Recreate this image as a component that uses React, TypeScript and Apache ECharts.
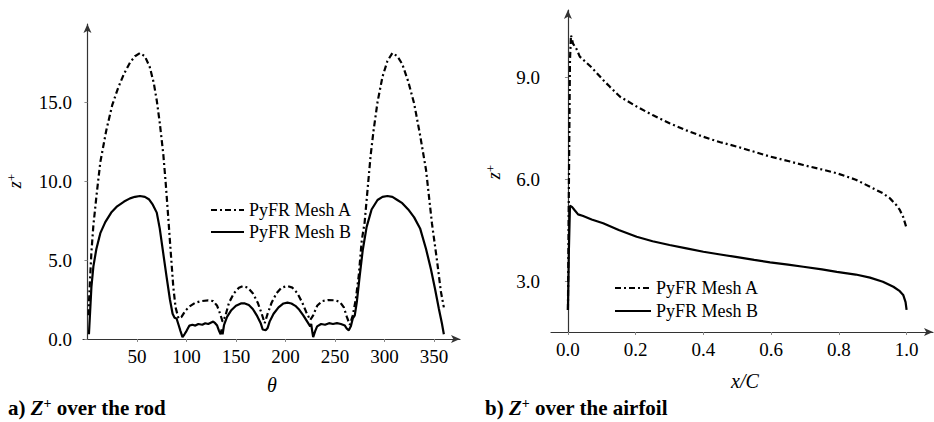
import React, { useEffect, useRef } from "react";
import * as echarts from "echarts";

// ---- Rod (left) data ----
const rodThetaA = [1, 2, 4, 6, 9, 13, 19, 25, 31, 37, 43, 48, 53, 58, 63, 67, 70, 73, 76.6, 79, 81.6, 84, 86.7, 89, 92, 95, 99, 104, 109, 115, 122, 127, 131, 134, 136.5, 139, 143, 148, 153, 157, 162, 167, 172, 176, 179, 182, 186, 191, 196, 202, 207, 212, 217, 221, 225, 228, 232, 237, 243, 250, 255, 259, 262, 265, 268, 271, 274, 277, 280, 283, 286, 289, 293, 298, 303, 308, 313, 318, 324, 330, 336, 342, 348, 353, 357, 360];
const rodZA = [1.5, 3.0, 5.5, 7.2, 9.0, 11.2, 13.2, 14.8, 15.9, 16.8, 17.5, 17.9, 18.1, 17.9, 17.2, 16.2, 15.1, 13.7, 11.7, 9.9, 7.7, 5.6, 3.3, 2.0, 1.3, 1.4, 1.8, 2.1, 2.3, 2.4, 2.45, 2.4, 2.1, 1.6, 1.1, 1.4, 2.3, 2.9, 3.25, 3.35, 3.25, 2.9, 2.3, 1.6, 1.0, 1.6, 2.3, 2.9, 3.25, 3.35, 3.25, 2.9, 2.3, 1.7, 1.2, 1.5, 2.1, 2.4, 2.47, 2.45, 2.35, 2.0, 1.4, 0.9, 1.5, 2.5, 4.0, 6.2, 7.4, 9.5, 11.6, 13.2, 15.0, 16.6, 17.6, 18.1, 17.9, 17.4, 16.3, 14.9, 12.9, 10.7, 7.3, 5.0, 3.0, 2.0];

const rodThetaB = [1.5, 2.5, 4, 6, 9, 13, 18, 24, 30, 37, 43, 48, 53, 58, 62, 66, 70, 73, 76.6, 80, 83.3, 86, 88, 90, 92, 94, 96, 98, 100, 103, 106, 109, 112, 116, 119, 122, 125, 127, 129, 131, 133, 134.5, 135.5, 136.5, 138, 141, 145, 150, 155, 159, 163, 167, 171, 175, 177, 180, 182, 184, 188, 193, 198, 202, 206, 210, 214, 218, 222, 225, 226, 227, 228, 230, 232, 236, 240, 244, 248, 252, 256, 260, 262, 264, 266, 268, 270, 272, 275, 278, 282, 287, 293, 298, 303, 308, 313, 318, 324, 330, 336, 342, 347, 351, 355, 358, 360];
const rodZB = [0.3, 1.5, 3.3, 4.6, 5.7, 6.7, 7.4, 8.0, 8.4, 8.7, 8.9, 9.0, 9.05, 9.0, 8.85, 8.5, 8.0, 7.0, 5.4, 3.9, 2.5, 1.6, 1.35, 1.3, 0.9, 0.5, 0.12, 0.3, 0.5, 0.85, 0.9, 0.85, 0.95, 0.9, 1.0, 0.95, 1.05, 1.1, 1.0, 0.85, 0.5, 0.3, 0.6, 0.3, 0.9, 1.4, 1.8, 2.1, 2.25, 2.25, 2.15, 1.9, 1.5, 1.0, 0.6, 0.55, 0.7, 1.1, 1.6, 2.0, 2.25, 2.3, 2.25, 2.1, 1.85, 1.5, 1.1, 0.8, 0.95, 0.5, 0.12, 0.5, 0.8, 0.95, 0.9, 1.0, 0.95, 1.0, 0.95, 0.85, 0.65, 0.55, 0.8, 1.3, 1.5, 2.3, 4.0, 5.6, 7.1, 8.2, 8.8, 9.0, 9.05, 9.0, 8.8, 8.6, 8.2, 7.7, 7.0, 5.7, 4.4, 3.2, 1.9, 1.0, 0.3];

// ---- Airfoil (right) data ----
const foilXA = [0, 0.003, 0.006, 0.009, 0.015, 0.025, 0.035, 0.07, 0.104, 0.124, 0.154, 0.203, 0.25, 0.3, 0.35, 0.4, 0.45, 0.5, 0.55, 0.597, 0.65, 0.695, 0.75, 0.794, 0.85, 0.892, 0.93, 0.951, 0.97, 0.98, 0.99, 1.0];
const foilZA = [2.17, 6.0, 9.5, 10.25, 10.0, 9.85, 9.62, 9.3, 8.93, 8.73, 8.44, 8.15, 7.9, 7.66, 7.45, 7.26, 7.1, 6.97, 6.82, 6.68, 6.55, 6.43, 6.3, 6.19, 6.0, 5.79, 5.6, 5.45, 5.25, 5.11, 4.9, 4.57];

const foilXB = [0, 0.003, 0.006, 0.012, 0.02, 0.03, 0.045, 0.07, 0.104, 0.15, 0.203, 0.25, 0.3, 0.35, 0.4, 0.45, 0.5, 0.55, 0.597, 0.65, 0.695, 0.75, 0.794, 0.85, 0.892, 0.93, 0.961, 0.98, 0.99, 0.997, 1.0];
const foilZB = [2.17, 4.0, 5.23, 5.2, 5.1, 4.98, 4.93, 4.83, 4.72, 4.52, 4.32, 4.19, 4.08, 3.98, 3.88, 3.8, 3.72, 3.64, 3.57, 3.5, 3.44, 3.36, 3.29, 3.21, 3.12, 3.0, 2.85, 2.72, 2.61, 2.4, 2.17];

// ---- Tick labels ----
const rodXTicks = [50, 100, 150, 200, 250, 300, 350];
const rodYTicks = [0, 5, 10, 15];
const foilXTicks = [0, 0.2, 0.4, 0.6, 0.8, 1.0];
const foilYTicks = [3, 6, 9];

const seriesNames = ["PyFR Mesh A", "PyFR Mesh B"];

const FONT = "Liberation Serif";
const zip = (xs: number[], ys: number[]) => xs.map((x, i) => [x, ys[i]]);

export default function App() {
  const ref = useRef<HTMLDivElement>(null);
  useEffect(() => {
    document.body.style.margin = "0";
    const chart = echarts.init(ref.current!, undefined, { renderer: "svg" });
    const axisLine = {
      show: true,
      lineStyle: { color: "#333", width: 1.2 },
      symbol: ["none", "arrow"],
      symbolSize: [6, 9],
    };
    const axisTick = (vals: number[]) => ({
      show: true,
      length: 3,
      customValues: vals,
      lineStyle: { color: "#888", width: 1 },
    });
    const labelStyle = { fontFamily: FONT, fontSize: 19, color: "#000" };
    const dashA = [6, 3, 2, 3];
    const lineSeries = (name: string, data: number[][], idx: number, dashed: boolean) => ({
      type: "line",
      name,
      data,
      xAxisIndex: idx,
      yAxisIndex: idx,
      symbol: "none",
      showSymbol: false,
      lineStyle: { color: "#000", width: 2.2, type: dashed ? dashA : "solid" },
      itemStyle: { color: "#000" },
      z: dashed ? 2 : 3,
    });
    const legendBase = {
      data: seriesNames,
      orient: "vertical",
      itemHeight: 18,
      itemStyle: { opacity: 0 },
      textStyle: { fontFamily: FONT, fontSize: 18, color: "#000", lineHeight: 18 },
      selectedMode: false,
    };
    const supText = (x: number, y: number) => ({
      type: "text",
      x,
      y,
      rotation: Math.PI / 2,
      style: {
        text: "{z|z}{s|+}",
        align: "center",
        verticalAlign: "middle",
        rich: {
          z: { fontFamily: FONT, fontStyle: "italic", fontSize: 18, lineHeight: 20, fill: "#000" },
          s: { fontFamily: FONT, fontSize: 13, lineHeight: 20, verticalAlign: "top", fill: "#000" },
        },
      },
    });
    const caption = (x: number, label: string) => ({
      type: "text",
      x,
      y: 408,
      style: {
        text: `{b|${label}) }{z|Z}{s|+}{b|${label === "a" ? " over the rod" : " over the airfoil"}}`,
        verticalAlign: "middle",
        rich: {
          b: { fontFamily: FONT, fontWeight: "bold", fontSize: 21, lineHeight: 24, fill: "#000" },
          z: { fontFamily: FONT, fontWeight: "bold", fontStyle: "italic", fontSize: 21, lineHeight: 24, fill: "#000" },
          s: { fontFamily: FONT, fontWeight: "bold", fontSize: 14, lineHeight: 24, verticalAlign: "top", fill: "#000" },
        },
      },
    });
    chart.setOption({
      animation: false,
      textStyle: { fontFamily: FONT, fontSize: 19, color: "#000" },
      grid: [
        { left: 83, top: 24, width: 377, height: 315 },
        { left: 551, top: 10, width: 382, height: 322 },
      ],
      xAxis: [
        {
          type: "value", gridIndex: 0, min: -4.5, max: 376.3,
          axisLine, axisTick: axisTick(rodXTicks), splitLine: { show: false },
          axisLabel: { ...labelStyle, margin: 8, customValues: rodXTicks, formatter: (v: number) => String(v) },
        },
        {
          type: "value", gridIndex: 1, min: -0.05, max: 1.078,
          axisLine, axisTick: axisTick(foilXTicks), splitLine: { show: false },
          axisLabel: { ...labelStyle, margin: 8, customValues: foilXTicks, formatter: (v: number) => v.toFixed(1) },
        },
      ],
      yAxis: [
        {
          type: "value", gridIndex: 0, min: 0, max: 19.94,
          axisLine, axisTick: axisTick(rodYTicks), splitLine: { show: false },
          axisLabel: { ...labelStyle, margin: 11, customValues: rodYTicks, formatter: (v: number) => v.toFixed(1) },
        },
        {
          type: "value", gridIndex: 1, min: 1.52, max: 10.99,
          axisLine, axisTick: axisTick(foilYTicks), splitLine: { show: false },
          axisLabel: { ...labelStyle, margin: 11, customValues: foilYTicks, formatter: (v: number) => v.toFixed(1) },
        },
      ],
      legend: [
        { ...legendBase, left: 205, top: 196, itemWidth: 33, itemGap: 4 },
        { ...legendBase, left: 609, top: 274, itemWidth: 36, itemGap: 5 },
      ],
      series: [
        lineSeries(seriesNames[0], zip(rodThetaA, rodZA), 0, true),
        lineSeries(seriesNames[1], zip(rodThetaB, rodZB), 0, false),
        lineSeries(seriesNames[0], zip(foilXA, foilZA), 1, true),
        lineSeries(seriesNames[1], zip(foilXB, foilZB), 1, false),
      ],
      graphic: [
        supText(15, 181),
        supText(494, 172),
        {
          type: "text", x: 272, y: 385,
          style: { text: "θ", fontFamily: FONT, fontStyle: "italic", fontSize: 20, fill: "#000", align: "center", verticalAlign: "middle" },
        },
        {
          type: "text", x: 745, y: 381,
          style: { text: "x/C", fontFamily: FONT, fontStyle: "italic", fontSize: 20, fill: "#000", align: "center", verticalAlign: "middle" },
        },
        caption(8, "a"),
        caption(485, "b"),
      ],
    });
    return () => chart.dispose();
  }, []);
  return <div ref={ref} style={{ position: "absolute", left: 0, top: 0, width: 934, height: 422 }} />;
}
